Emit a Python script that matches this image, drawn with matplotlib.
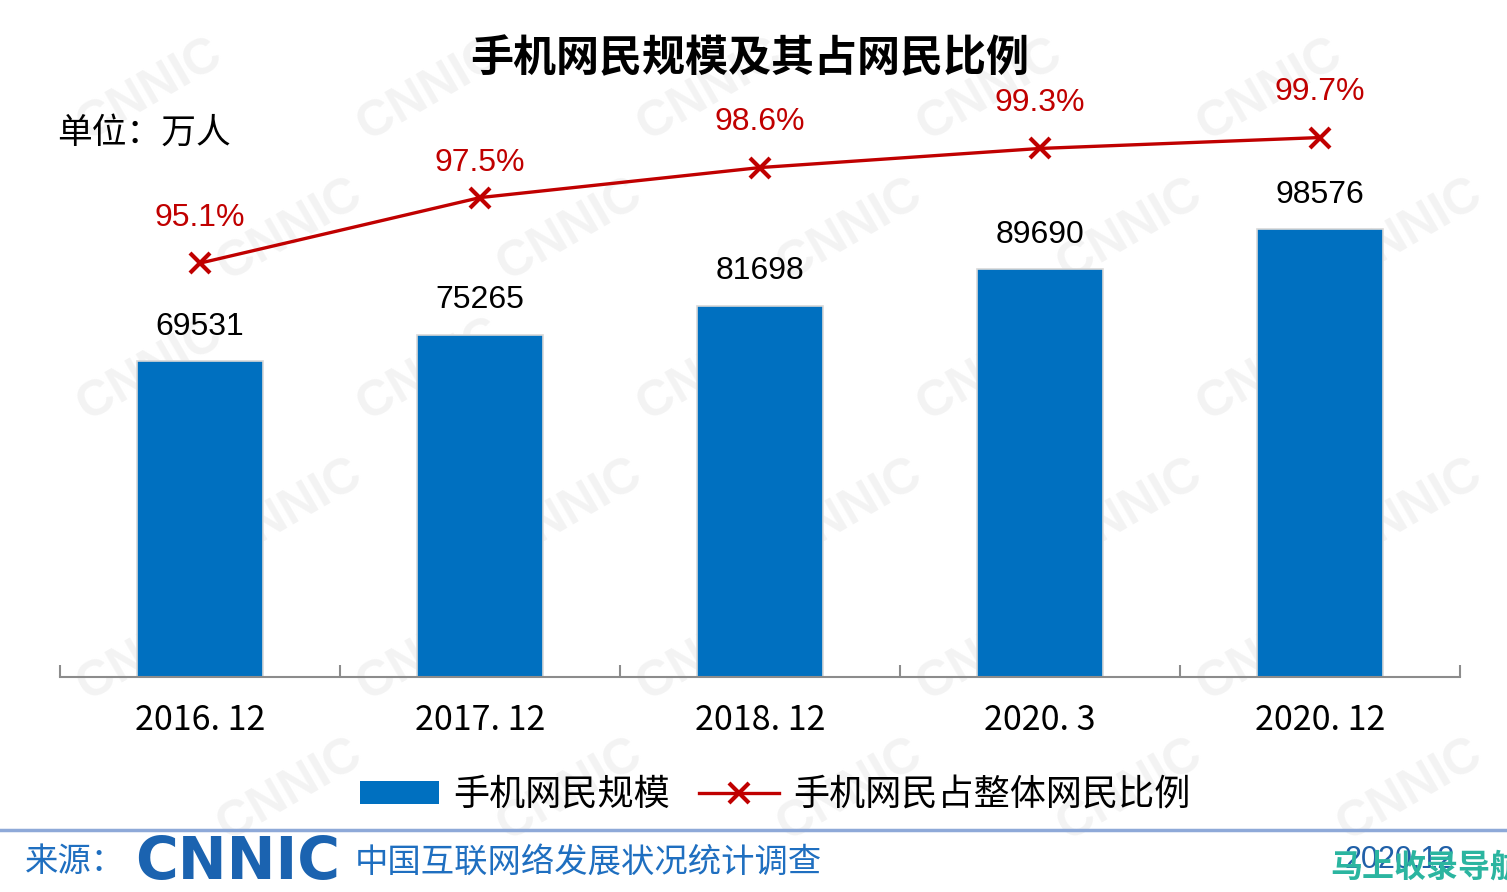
import numpy as np
import matplotlib
matplotlib.use('Agg')
import matplotlib.pyplot as plt
from matplotlib.lines import Line2D
from matplotlib.patches import Patch

plt.rcParams['font.family'] = ['Noto Sans CJK SC', 'DejaVu Sans']

categories = ['2016. 12', '2017. 12', '2018. 12', '2020. 3', '2020. 12']
users = [69531, 75265, 81698, 89690, 98576]
share = [95.1, 97.5, 98.6, 99.3, 99.7]

title = '手机网民规模及其占网民比例'
unit = '单位：万人'
bar_name = '手机网民规模'
line_name = '手机网民占整体网民比例'

BLUE = '#0070C0'
RED = '#C00000'

W, H = 1507, 892
fig = plt.figure(figsize=(W / 100, H / 100), dpi=100)

# faint watermark behind everything
bg = fig.add_axes([0, 0, 1, 1], zorder=-1)
bg.set_xlim(0, W)
bg.set_ylim(H, 0)
bg.axis('off')
for row in range(6):
    for col in range(5):
        bg.text(150 + col * 280 + (row % 2) * 140, 90 + row * 140, 'CNNIC',
                fontsize=36, fontweight='bold', color='#F3F3F3', rotation=30,
                ha='center', va='center', family='Liberation Sans')

ax = fig.add_axes([60 / W, (H - 677) / H, 1400 / W, (677 - 60) / H])
ax.patch.set_alpha(0)
x = np.arange(len(categories))
ax.bar(x, users, width=0.45, color=BLUE, edgecolor='#D8D8D8', linewidth=1.2, zorder=2)
ax.set_xlim(-0.5, 4.5)
ax.set_ylim(0, 617 / 0.004545)
for xi, v in zip(x, users):
    ax.annotate(str(v), (xi, v), xytext=(0, 14), textcoords='offset points',
                ha='center', va='bottom', fontsize=23, family='Liberation Sans')

for s in ['top', 'right', 'left']:
    ax.spines[s].set_visible(False)
ax.spines['bottom'].set_color('#8C8C8C')
ax.spines['bottom'].set_linewidth(1.5)
ax.set_yticks([])
ax.set_xticks(x)
ax.set_xticklabels(categories, fontsize=24.5)
ax.tick_params(axis='x', which='major', length=0, pad=19)
ax.set_xticks(np.arange(-0.5, 5, 1), minor=True)
ax.tick_params(axis='x', which='minor', direction='in', length=9, width=1.5, color='#8C8C8C')

ax2 = ax.twinx()
ax2.plot(x, share, color=RED, lw=2.4, marker='x', markersize=15, mew=3, zorder=3)
ax2.set_ylim(79.94, 102.54)
ax2.set_xlim(-0.5, 4.5)
ax2.axis('off')
label_gap = [22, 14, 22, 22, 22]
for xi, v, g in zip(x, share, label_gap):
    ax2.annotate(f'{v}%', (xi, v), xytext=(0, g), textcoords='offset points',
                 ha='center', va='bottom', fontsize=23, color=RED, family='Liberation Sans')

fig.text(750 / W, 1 - 58 / H, title, fontsize=31, fontweight='bold', ha='center', va='center')
fig.text(57 / W, 1 - 133 / H, unit, fontsize=25, ha='left', va='center')

handles = [Patch(facecolor=BLUE, label=bar_name),
           Line2D([0], [0], color=RED, lw=2.4, marker='x', markersize=15, mew=3, label=line_name)]
fig.legend(handles=handles, loc='center', bbox_to_anchor=(775 / W, 1 - 795 / H),
           ncol=2, frameon=False, fontsize=26, handlelength=2.2, handleheight=0.6,
           columnspacing=0.8, handletextpad=0.4)

fig.add_artist(Line2D([0, 1], [1 - 830 / H] * 2, color='#8EA9D8', lw=2.5))
fig.text(25 / W, 1 - 862 / H, '来源：', fontsize=24, color='#1F6FC0', ha='left', va='center')
fig.text(135 / W, 1 - 862 / H, 'CNNIC', fontsize=42, fontweight='heavy', color='#1B63B0',
         ha='left', va='center', family='DejaVu Sans')
fig.text(355 / W, 1 - 862 / H, '中国互联网络发展状况统计调查', fontsize=24, color='#1F6FC0',
         ha='left', va='center')
fig.text(1345 / W, 1 - 860 / H, '2020.12', fontsize=22, color='#2060A8', ha='left', va='center',
         family='Liberation Sans')
fig.text(1330 / W, 1 - 868 / H, '马上收录导航', fontsize=23, fontweight='bold', color='#2BB5A0',
         ha='left', va='center', style='italic')

fig.savefig('out.png', dpi=100)
